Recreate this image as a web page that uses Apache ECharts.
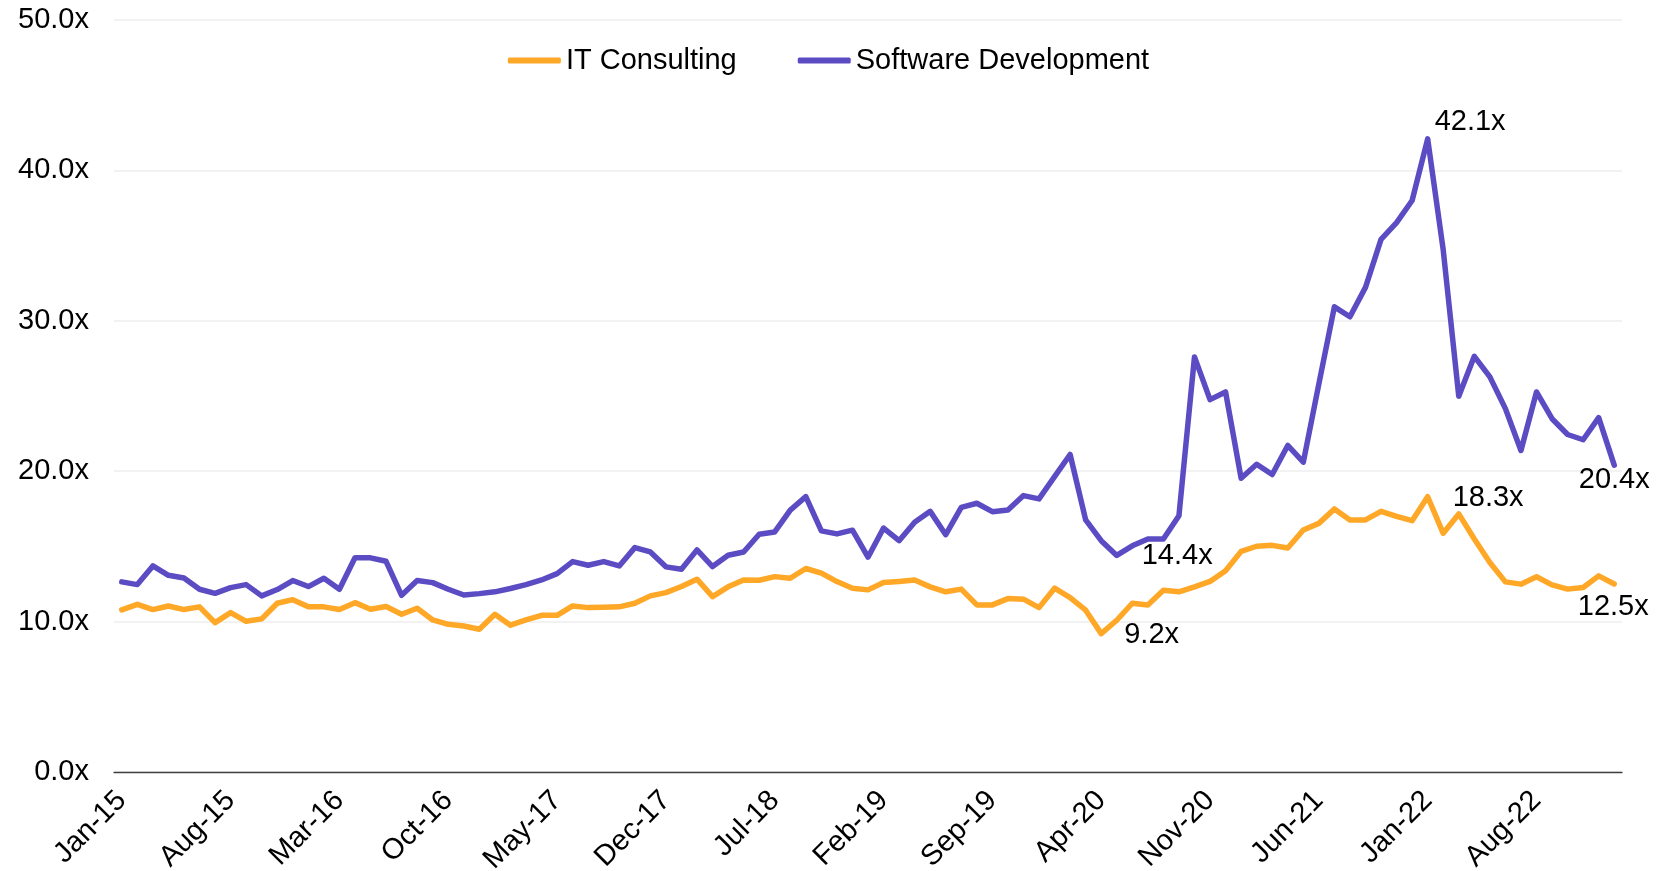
<!DOCTYPE html>
<html>
<head>
<meta charset="utf-8">
<title>EV/EBITDA multiples</title>
<script src="https://cdn.jsdelivr.net/npm/echarts@6/dist/echarts.min.js"></script>
<style>
  html, body { margin: 0; padding: 0; background: #fff; }
  #chart { width: 1657px; height: 871px; }
</style>
</head>
<body>
<div id="chart"></div>
<script>
  /** months on the x axis */
  const months = [
    'Jan-15', 'Feb-15', 'Mar-15', 'Apr-15', 'May-15', 'Jun-15', 'Jul-15', 'Aug-15', 'Sep-15', 'Oct-15', 'Nov-15', 'Dec-15',
    'Jan-16', 'Feb-16', 'Mar-16', 'Apr-16', 'May-16', 'Jun-16', 'Jul-16', 'Aug-16', 'Sep-16', 'Oct-16', 'Nov-16', 'Dec-16',
    'Jan-17', 'Feb-17', 'Mar-17', 'Apr-17', 'May-17', 'Jun-17', 'Jul-17', 'Aug-17', 'Sep-17', 'Oct-17', 'Nov-17', 'Dec-17',
    'Jan-18', 'Feb-18', 'Mar-18', 'Apr-18', 'May-18', 'Jun-18', 'Jul-18', 'Aug-18', 'Sep-18', 'Oct-18', 'Nov-18', 'Dec-18',
    'Jan-19', 'Feb-19', 'Mar-19', 'Apr-19', 'May-19', 'Jun-19', 'Jul-19', 'Aug-19', 'Sep-19', 'Oct-19', 'Nov-19', 'Dec-19',
    'Jan-20', 'Feb-20', 'Mar-20', 'Apr-20', 'May-20', 'Jun-20', 'Jul-20', 'Aug-20', 'Sep-20', 'Oct-20', 'Nov-20', 'Dec-20',
    'Jan-21', 'Feb-21', 'Mar-21', 'Apr-21', 'May-21', 'Jun-21', 'Jul-21', 'Aug-21', 'Sep-21', 'Oct-21', 'Nov-21', 'Dec-21',
    'Jan-22', 'Feb-22', 'Mar-22', 'Apr-22', 'May-22', 'Jun-22', 'Jul-22', 'Aug-22', 'Sep-22', 'Oct-22', 'Nov-22', 'Dec-22',
    'Jan-23'
  ]

  /** IT Consulting multiple */
  const itConsulting = [
    10.78, 11.15, 10.80, 11.04, 10.80, 10.98, 9.93, 10.60, 10.02, 10.18, 11.22, 11.46,
    10.98, 10.98, 10.80, 11.26, 10.82, 11.00, 10.49, 10.89, 10.11, 9.82, 9.71, 9.49,
    10.49, 9.76, 10.11, 10.42, 10.42, 11.04, 10.93, 10.95, 10.98, 11.22, 11.71, 11.93,
    12.33, 12.82, 11.66, 12.31, 12.77, 12.75, 12.99, 12.88, 13.53, 13.22, 12.66, 12.22,
    12.11, 12.60, 12.67, 12.76, 12.31, 11.98, 12.16, 11.11, 11.11, 11.53, 11.49, 10.93,
    12.22, 11.60, 10.76, 9.2, 10.09, 11.22, 11.11, 12.09, 11.98, 12.31, 12.67, 13.38,
    14.67, 15.01, 15.07, 14.89, 16.09, 16.53, 17.49, 16.76, 16.76, 17.33, 17.00, 16.71,
    18.3, 15.87, 17.16, 15.49, 13.93, 12.64, 12.49, 12.98, 12.44, 12.16, 12.27, 13.04,
    12.5
  ]

  /** Software Development multiple */
  const softwareDev = [
    12.64, 12.46, 13.70, 13.08, 12.90, 12.15, 11.88, 12.26, 12.46, 11.71, 12.13, 12.73,
    12.33, 12.88, 12.15, 14.24, 14.24, 14.01, 11.75, 12.73, 12.59, 12.15, 11.77, 11.86,
    11.98, 12.20, 12.46, 12.77, 13.19, 13.99, 13.75, 13.99, 13.70, 14.92, 14.63, 13.64,
    13.48, 14.77, 13.66, 14.41, 14.63, 15.81, 15.96, 17.41, 18.31, 16.03, 15.83, 16.08,
    14.28, 16.22, 15.38, 16.60, 17.33, 15.78, 17.60, 17.87, 17.31, 17.42, 18.38, 18.16,
    19.64, 21.11, 16.76, 15.38, 14.4, 15.04, 15.49, 15.49, 17.04, 27.60, 24.76, 25.27,
    19.53, 20.46, 19.78, 21.71, 20.60, 25.80, 30.93, 30.27, 32.22, 35.42, 36.53, 38.00,
    42.1, 34.71, 24.98, 27.64, 26.27, 24.16, 21.38, 25.27, 23.49, 22.44, 22.09, 23.56,
    20.4
  ]

  /** y axis ticks */
  const yTicks = [0, 10, 20, 30, 40, 50]

  /** which points carry a value label (index into the arrays) */
  const itLabelIdx = [63, 84, 96]
  const swLabelIdx = [64, 84, 96]

  /** label placement per labelled point */
  const labelPlace = {
    it: { 63: { align: 'left', offset: [23, 1.5] }, 84: { align: 'left', offset: [25, 1] }, 96: { align: 'center', offset: [-1, 23] } },
    sw: { 64: { align: 'left', offset: [25, 1] }, 84: { align: 'left', offset: [7, -16.5] }, 96: { align: 'center', offset: [0, 14.5] } }
  }

  const FONT = '"Liberation Sans", Arial, sans-serif'
  const ORANGE = '#FFA726'
  const PURPLE = '#5B4CC4'

  const markLabels = (values, idxs, place) => ({
    symbol: 'circle',
    symbolSize: 0,
    silent: true,
    label: {
      show: true,
      position: 'inside',
      color: '#000',
      fontSize: 29,
      fontFamily: FONT,
      formatter: p => p.value.toFixed(1) + 'x'
    },
    data: idxs.map(i => ({
      coord: [i, values[i]],
      value: values[i],
      label: { align: place[i].align, verticalAlign: 'middle', offset: place[i].offset }
    }))
  })

  const chart = echarts.init(document.getElementById('chart'))
  chart.setOption({
    animation: false,
    backgroundColor: '#fff',
    textStyle: { fontFamily: FONT },
    legend: {
      top: 41,
      left: 'center',
      icon: 'roundRect',
      itemWidth: 53,
      itemHeight: 6,
      itemGap: 61,
      textStyle: { fontSize: 29, color: '#000', fontFamily: FONT },
      data: ['IT Consulting', 'Software Development']
    },
    grid: { left: 114, right: 35, top: 20, bottom: 99, containLabel: false, outerBoundsMode: 'none' },
    xAxis: {
      type: 'category',
      data: months,
      boundaryGap: true,
      axisLine: { lineStyle: { color: '#404040', width: 1.3 } },
      axisTick: { show: false },
      axisLabel: {
        interval: 6,
        rotate: 45,
        margin: 24,
        fontSize: 29,
        color: '#000',
        fontFamily: FONT
      }
    },
    yAxis: {
      type: 'value',
      min: yTicks[0],
      max: yTicks[yTicks.length - 1],
      interval: 10,
      axisLine: { show: false },
      axisTick: { show: false },
      splitLine: { lineStyle: { color: '#EEEEEE', width: 1.5 } },
      axisLabel: {
        margin: 25,
        fontSize: 29,
        color: '#000',
        fontFamily: FONT,
        formatter: v => v.toFixed(1) + 'x'
      }
    },
    series: [
      {
        name: 'IT Consulting',
        type: 'line',
        data: itConsulting,
        symbol: 'none',
        color: ORANGE,
        lineStyle: { width: 5.5, color: ORANGE, cap: 'round', join: 'round' },
        markPoint: markLabels(itConsulting, itLabelIdx, labelPlace.it)
      },
      {
        name: 'Software Development',
        type: 'line',
        data: softwareDev,
        symbol: 'none',
        color: PURPLE,
        lineStyle: { width: 5.5, color: PURPLE, cap: 'round', join: 'round' },
        markPoint: markLabels(softwareDev, swLabelIdx, labelPlace.sw)
      }
    ]
  })
</script>
</body>
</html>
